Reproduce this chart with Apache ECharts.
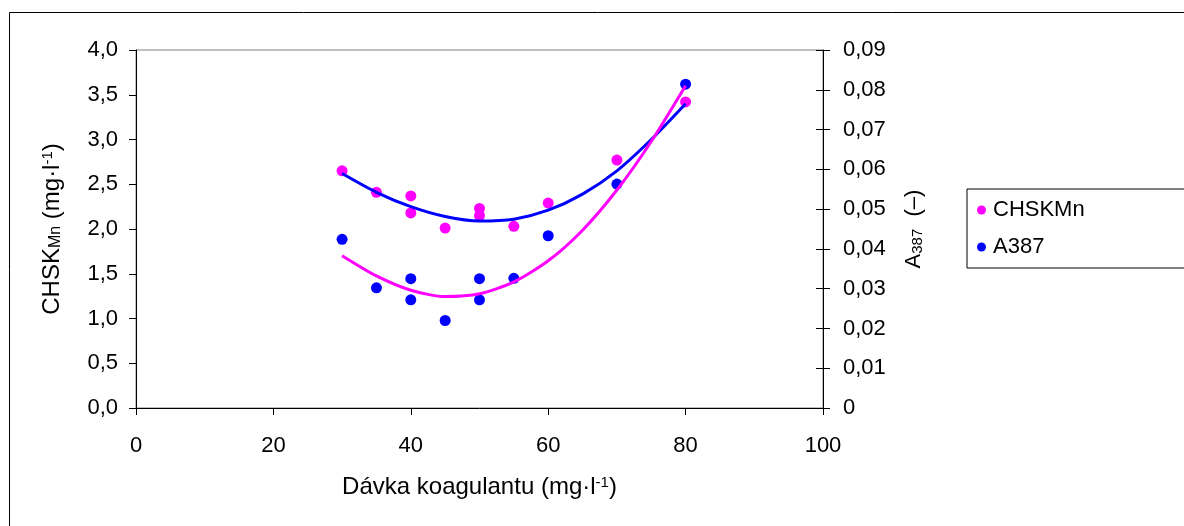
<!DOCTYPE html>
<html>
<head>
<meta charset="utf-8">
<script src="https://cdn.jsdelivr.net/npm/echarts@6/dist/echarts.min.js"></script>
<style>html,body{margin:0;padding:0;background:#fff}#c{width:1184px;height:526px}</style>
</head>
<body>
<div id="c"></div>
<script>
// Measured data (x = coagulant dose, mg/l)
const chskX = [30, 35, 40, 40, 45, 50, 50, 55, 60, 70, 80];
const chskY = [2.65, 2.41, 2.37, 2.18, 2.01, 2.23, 2.15, 2.03, 2.29, 2.77, 3.42];
const a387X = [30, 35, 40, 40, 45, 50, 50, 55, 60, 70, 80];
const a387Y = [0.0424, 0.0302, 0.0325, 0.0272, 0.0220, 0.0325, 0.0272, 0.0326, 0.0433, 0.0563, 0.0814];
// Trendlines
const trendX = [30, 35, 40, 45, 50, 55, 60, 65, 70, 75, 80];
const trendChskY = [2.62, 2.41, 2.25, 2.14, 2.09, 2.11, 2.21, 2.39, 2.65, 3.00, 3.40];
const trendA387Y = [0.0383, 0.0332, 0.0296, 0.0280, 0.0287, 0.0317, 0.0370, 0.0447, 0.0548, 0.0670, 0.0810];

const pair = (xs, ys) => xs.map((x, i) => [x, ys[i]]);
const FONT = "'Liberation Sans', Arial, sans-serif";
const PINK = '#FF00FF', BLUE = '#0000FF';

const chart = echarts.init(document.getElementById('c'), null, {renderer: 'canvas'});
const axisBase = {
  axisLine: {show: true, lineStyle: {color: '#000', width: 1}},
  axisTick: {show: true, inside: false, length: 7, lineStyle: {color: '#000'}},
  splitLine: {show: false},
  axisLabel: {color: '#000', fontFamily: FONT, fontSize: 22}
};
const rA = v => v === 0 ? '0' : v.toFixed(2).replace('.', ',');
chart.setOption({
  animation: false,
  backgroundColor: '#fff',
  graphic: [{
    type: 'rect', left: 7, top: 10, silent: true,
    shape: {width: 1220, height: 560},
    style: {fill: 'none', stroke: '#000', lineWidth: 1}
  }],
  grid: {left: 136, right: 361, top: 50, bottom: 118, show: true, borderColor: '#808080', borderWidth: 1},
  legend: {
    orient: 'vertical', left: 967, top: 189,
    data: ['CHSKMn', 'A387'], icon: 'circle', itemWidth: 9, itemHeight: 9, itemGap: 15,
    padding: [10, 200, 10, 10], borderColor: '#000', borderWidth: 1,
    textStyle: {color: '#000', fontFamily: FONT, fontSize: 22, lineHeight: 22, padding: [0, 0, 0, 2]}
  },
  xAxis: Object.assign({}, axisBase, {
    type: 'value', min: 0, max: 100, interval: 20,
    axisLabel: Object.assign({}, axisBase.axisLabel, {margin: 27}),
    name: '{n|Dávka koagulantu (mg·l}{p|-1}{n|)}',
    nameLocation: 'middle', nameGap: 67,
    nameTextStyle: {rich: {
      n: {fontFamily: FONT, fontSize: 24, color: '#000'},
      p: {fontFamily: FONT, fontSize: 15, color: '#000', verticalAlign: 'top'}
    }}
  }),
  yAxis: [
    Object.assign({}, axisBase, {
      type: 'value', min: 0, max: 4, interval: 0.5, position: 'left',
      axisLabel: Object.assign({}, axisBase.axisLabel, {margin: 18, formatter: v => v.toFixed(1).replace('.', ',')}),
      name: '{n|CHSK}{s|Mn}{n| (mg·l}{p|-1}{n|)}',
      nameLocation: 'middle', nameGap: 72, nameRotate: 90,
      nameTextStyle: {rich: {
        n: {fontFamily: FONT, fontSize: 24, color: '#000'},
        s: {fontFamily: FONT, fontSize: 16, color: '#000', verticalAlign: 'bottom'},
        p: {fontFamily: FONT, fontSize: 15, color: '#000', verticalAlign: 'top'}
      }}
    }),
    Object.assign({}, axisBase, {
      type: 'value', min: 0, max: 0.09, interval: 0.01, position: 'right',
      axisLabel: Object.assign({}, axisBase.axisLabel, {margin: 20, formatter: rA}),
      name: '{n|A}{s|387}{n|  (–)}',
      nameLocation: 'middle', nameGap: 80, nameRotate: 90,
      nameTextStyle: {rich: {
        n: {fontFamily: FONT, fontSize: 22, color: '#000'},
        s: {fontFamily: FONT, fontSize: 15, color: '#000', verticalAlign: 'bottom'}
      }}
    }),
    Object.assign({}, axisBase, {
      type: 'value', min: 0, max: 0.09, interval: 0.01, position: 'right',
      axisLine: {show: false},
      axisTick: {show: true, inside: true, length: 7, lineStyle: {color: '#000'}},
      axisLabel: {show: false}
    })
  ],
  series: [
    {name: 'CHSKMn', type: 'scatter', yAxisIndex: 0, data: pair(chskX, chskY),
     symbol: 'circle', symbolSize: 11, itemStyle: {color: PINK, opacity: 1}, z: 2},
    {name: 'A387', type: 'scatter', yAxisIndex: 1, data: pair(a387X, a387Y),
     symbol: 'circle', symbolSize: 11, itemStyle: {color: BLUE, opacity: 1}, z: 2},
    {name: 'trendCHSK', type: 'line', yAxisIndex: 0, data: pair(trendX, trendChskY),
     smooth: 0.25, showSymbol: false, lineStyle: {color: BLUE, width: 3}, itemStyle: {color: BLUE}, z: 3},
    {name: 'trendA387', type: 'line', yAxisIndex: 1, data: pair(trendX, trendA387Y),
     smooth: 0.25, showSymbol: false, lineStyle: {color: PINK, width: 3}, itemStyle: {color: PINK}, z: 3}
  ]
});
</script>
</body>
</html>
